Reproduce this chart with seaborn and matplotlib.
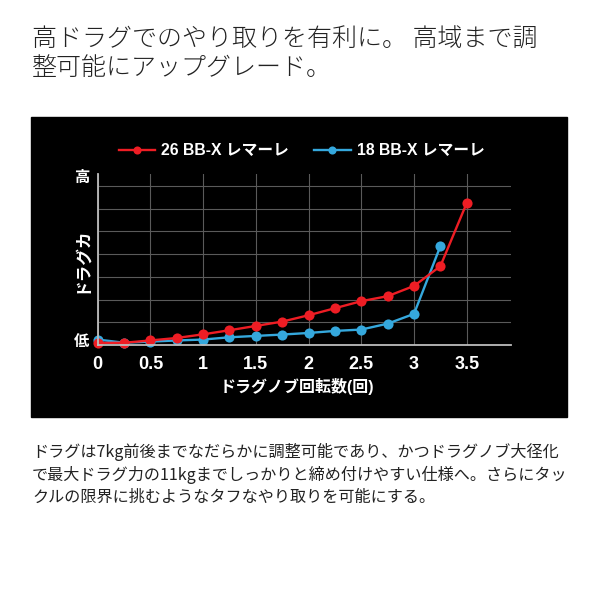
import numpy as np
import pandas as pd
import matplotlib
matplotlib.use("Agg")
import matplotlib.pyplot as plt
import seaborn as sns
from matplotlib.patches import Rectangle

# drag knob turns vs drag force (relative scale, 低 -> 高)
turns_new = [0, 0.25, 0.5, 0.75, 1, 1.25, 1.5, 1.75, 2, 2.25, 2.5, 2.75, 3, 3.25, 3.5]
drag_new = [0.09, 0.1, 0.2, 0.31, 0.47, 0.65, 0.84, 1.03, 1.31, 1.62, 1.93, 2.15, 2.6, 3.47, 6.25]
turns_old = [0, 0.25, 0.5, 0.75, 1, 1.25, 1.5, 1.75, 2, 2.25, 2.5, 2.75, 3, 3.25]
drag_old = [0.24, 0.1, 0.15, 0.2, 0.24, 0.34, 0.4, 0.46, 0.53, 0.62, 0.68, 0.94, 1.37, 4.35]
label_new = "26 BB-X レマーレ"
label_old = "18 BB-X レマーレ"
xticks = [0, 0.5, 1, 1.5, 2, 2.5, 3, 3.5]
xtick_labels = ["0", "0.5", "1", "1.5", "2", "2.5", "3", "3.5"]

title_lines = ["高ドラグでのやり取りを有利に。 高域まで調", "整可能にアップグレード。"]
body_lines = ["ドラグは7kg前後までなだらかに調整可能であり、かつドラグノブ大径化",
              "で最大ドラグ力の11kgまでしっかりと締め付けやすい仕様へ。さらにタッ",
              "クルの限界に挑むようなタフなやり取りを可能にする。"]

df_new = pd.DataFrame({"turns": turns_new, "drag": drag_new})
df_old = pd.DataFrame({"turns": turns_old, "drag": drag_old})

plt.rcParams['font.family'] = ['Liberation Sans', 'Noto Sans CJK JP', 'DejaVu Sans']

fig = plt.figure(figsize=(6, 6), dpi=100)
fig.patch.set_facecolor("white")
fig.patches.append(Rectangle((31/600, 1-417/600), 535.7/600, 300/600,
                             transform=fig.transFigure, color="black", zorder=-5))

ax = fig.add_axes([97.7/600, 1-345/600, 413.3/600, 171/600])
ax.set_zorder(2)
ax.set_facecolor("black")

red = "#ee1d24"
blue = "#35a8dd"
sns.lineplot(data=df_old, x="turns", y="drag", marker="o", color=blue, linewidth=1.7,
             markersize=7.3, markeredgewidth=0, label=label_old, clip_on=False, ax=ax)
sns.lineplot(data=df_new, x="turns", y="drag", marker="o", color=red, linewidth=1.7,
             markersize=7.3, markeredgewidth=0, label=label_new, clip_on=False, ax=ax)

ax.set_xlim(0, 3.92)
ax.set_ylim(0, 7.53)
ax.set_xticks(xticks)
ax.set_xticklabels(xtick_labels)
ax.set_yticks([0.2, 7.4])
ax.set_yticklabels(["低", "高"])
ax.set_yticks([1, 2, 3, 4, 5, 6, 7], minor=True)
ax.tick_params(axis="both", which="both", length=0, colors="white")
ax.tick_params(axis="x", labelsize=13, pad=8)
ax.tick_params(axis="y", labelsize=11, pad=6)
for lab in ax.get_xticklabels() + ax.get_yticklabels():
    lab.set_fontweight("bold")

ax.grid(True, which="major", axis="x", color="#5a5a5a", linewidth=0.8)
ax.grid(True, which="minor", axis="y", color="#5a5a5a", linewidth=0.8)
ax.grid(False, which="major", axis="y")
for s in ["top", "right"]:
    ax.spines[s].set_visible(False)
for s in ["left", "bottom"]:
    ax.spines[s].set_color("#bdbdbd")
    ax.spines[s].set_linewidth(1.3)

ax.set_xlabel("ドラグノブ回転数(回)", color="white", fontsize=11.5, fontweight="bold", va="center")
ax.xaxis.set_label_coords(0.482, -0.244)
ax.set_ylabel("ドラグカ", color="white", fontsize=12, fontweight="bold", va="center")
ax.yaxis.set_label_coords(-0.04, 0.5)

handles, labels = ax.get_legend_handles_labels()
leg = ax.legend(handles[::-1], labels[::-1], loc="center", bbox_to_anchor=(0.494, 1.136),
                ncol=2, frameon=False, handlelength=2.3, handletextpad=0.4, columnspacing=1.6,
                prop={"weight": "bold", "size": 11.3}, labelcolor="white", markerscale=0.8)

for i, line in enumerate(title_lines):
    fig.text(32/600, 1-(40 + 28*i)/600, line, ha="left", va="center", fontsize=18,
             family="Noto Sans CJK JP", weight="light", color="#222222")
for i, line in enumerate(body_lines):
    fig.text(32/600, 1-(452 + 22.5*i)/600, line, ha="left", va="center", fontsize=11.6,
             family="Noto Sans CJK JP", color="#222222")

fig.savefig("out.png", dpi=100, facecolor="white")
